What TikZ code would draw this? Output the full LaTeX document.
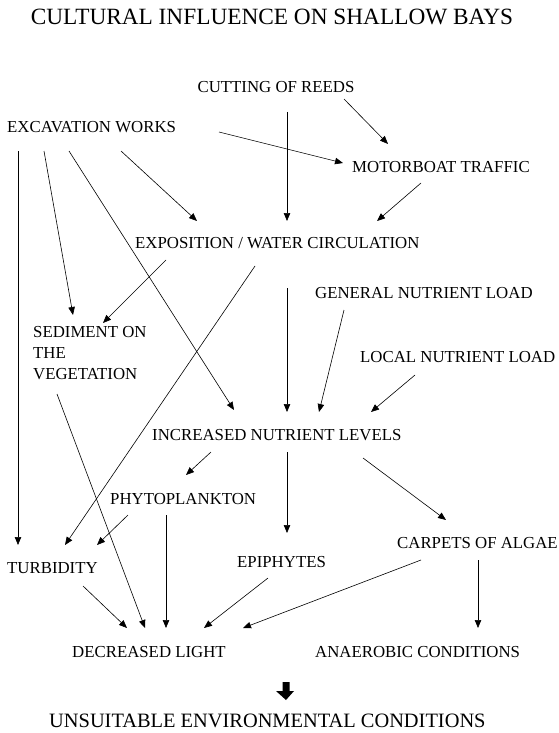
\documentclass[tikz,border=0pt]{standalone}
\usepackage{fontspec}
\setmainfont{Liberation Serif}
\usetikzlibrary{arrows.meta}
\begin{document}
\begin{tikzpicture}[x=1pt,y=-1pt,
  lbl/.style={inner sep=0pt,text height=11.1pt,text depth=0pt,font=\fontsize{16.8}{21}\selectfont},
  arr/.style={line width=0.6pt,-{Triangle[length=8pt,width=6.5pt]}},
  ln/.style={line width=0.6pt}]
\useasboundingbox (0,0) rectangle (558,733);
% nodes
\node[inner sep=0pt,font=\fontsize{23.3}{26}\selectfont] (title) at (272,17) {CULTURAL INFLUENCE ON SHALLOW BAYS};
\node[lbl] (cut) at (276,87) {CUTTING OF REEDS};
\node[lbl,anchor=west] (exc) at (7,127) {EXCAVATION WORKS};
\node[lbl,anchor=west] (motor) at (352,167) {MOTORBOAT TRAFFIC};
\node[lbl,anchor=west] (expo) at (135,243) {EXPOSITION / WATER CIRCULATION};
\node[lbl,anchor=west] (gen) at (315,293) {GENERAL NUTRIENT LOAD};
\node[inner sep=0pt,anchor=north west,align=left,font=\fontsize{16.8}{21}\selectfont] (sed) at (33,326.5) {SEDIMENT ON\\THE\\VEGETATION};
\node[lbl,anchor=west] (loc) at (360,357) {LOCAL NUTRIENT LOAD};
\node[lbl,anchor=west] (incr) at (152,435) {INCREASED NUTRIENT LEVELS};
\node[lbl,anchor=west] (phyto) at (110,499) {PHYTOPLANKTON};
\node[lbl,anchor=west] (carp) at (397,543) {CARPETS OF ALGAE};
\node[lbl,anchor=west] (epi) at (237,562) {EPIPHYTES};
\node[lbl,anchor=west] (turb) at (7,568) {TURBIDITY};
\node[lbl,anchor=west] (decr) at (72,652) {DECREASED LIGHT};
\node[lbl,anchor=west] (anaer) at (315,652) {ANAEROBIC CONDITIONS};
\node[inner sep=0pt,anchor=west,font=\fontsize{20.4}{24}\selectfont] (uns) at (49,721) {UNSUITABLE ENVIRONMENTAL CONDITIONS};
% connector end points
\coordinate (cut-a) at (287,112);  \coordinate (cut-b) at (344,99);
\coordinate (exc-a) at (219,132);  \coordinate (exc-b) at (121,151);
\coordinate (exc-c) at (18,151);   \coordinate (exc-d) at (44,151);
\coordinate (exc-e) at (69,151);
\coordinate (motor-in1) at (388,144); \coordinate (motor-in2) at (343,163);
\coordinate (motor-a) at (421,183);
\coordinate (expo-in1) at (287,221); \coordinate (expo-in2) at (377,221);
\coordinate (expo-in3) at (197,221);
\coordinate (expo-a) at (166,260); \coordinate (expo-b) at (255,266);
\coordinate (expo-c) at (287,288);
\coordinate (sed-in1) at (73,315); \coordinate (sed-in2) at (103,323);
\coordinate (sed-a) at (57,394);
\coordinate (gen-a) at (344,310);
\coordinate (loc-a) at (415,375);
\coordinate (incr-in1) at (234,410); \coordinate (incr-in2) at (287,412);
\coordinate (incr-in3) at (319,412); \coordinate (incr-in4) at (371,412);
\coordinate (incr-a) at (211,452); \coordinate (incr-b) at (287,452);
\coordinate (incr-c) at (363,458);
\coordinate (phyto-in) at (186,475);
\coordinate (phyto-a) at (128,515); \coordinate (phyto-b) at (166,515);
\coordinate (epi-in) at (287,533);  \coordinate (epi-a) at (268,578);
\coordinate (carp-in) at (446,520);
\coordinate (carp-a) at (421,560); \coordinate (carp-b) at (478,560);
\coordinate (turb-in1) at (18,545); \coordinate (turb-in2) at (65,545);
\coordinate (turb-in3) at (97,545);
\coordinate (turb-a) at (83,586);
\coordinate (decr-in1) at (127,628); \coordinate (decr-in2) at (145,628);
\coordinate (decr-in3) at (166,628); \coordinate (decr-in4) at (204,628);
\coordinate (decr-in5) at (243,628);
\coordinate (anaer-in) at (478,628);
% connectors
\draw[arr] (cut-a) -- (expo-in1);
\draw[arr] (cut-b) -- (motor-in1);
\draw[arr] (exc-a) -- (motor-in2);
\draw[arr] (motor-a) -- (expo-in2);
\draw[arr] (exc-b) -- (expo-in3);
\draw[arr] (exc-c) -- (turb-in1);
\draw[arr] (exc-d) -- (sed-in1);
\draw[arr] (exc-e) -- (incr-in1);
\draw[arr] (expo-a) -- (sed-in2);
\draw[arr] (expo-b) -- (turb-in2);
\draw[arr] (expo-c) -- (incr-in2);
\draw[arr] (gen-a) -- (incr-in3);
\draw[arr] (loc-a) -- (incr-in4);
\draw[arr] (incr-a) -- (phyto-in);
\draw[arr] (incr-b) -- (epi-in);
\draw[arr] (incr-c) -- (carp-in);
\draw[arr] (phyto-a) -- (turb-in3);
\draw[arr] (phyto-b) -- (decr-in3);
\draw[arr] (sed-a) -- (decr-in2);
\draw[arr] (turb-a) -- (decr-in1);
\draw[arr] (epi-a) -- (decr-in4);
\draw[arr] (carp-a) -- (decr-in5);
\draw[arr] (carp-b) -- (anaer-in);
% thick block arrow
\coordinate (blk) at (286,682);
\fill (blk) ++(-3.5,0) -- ++(7,0) -- ++(0,9) -- ++(4.5,0) -- (286,700) -- (276,691) -- ++(6.5,0) -- cycle;
\end{tikzpicture}
\end{document}
